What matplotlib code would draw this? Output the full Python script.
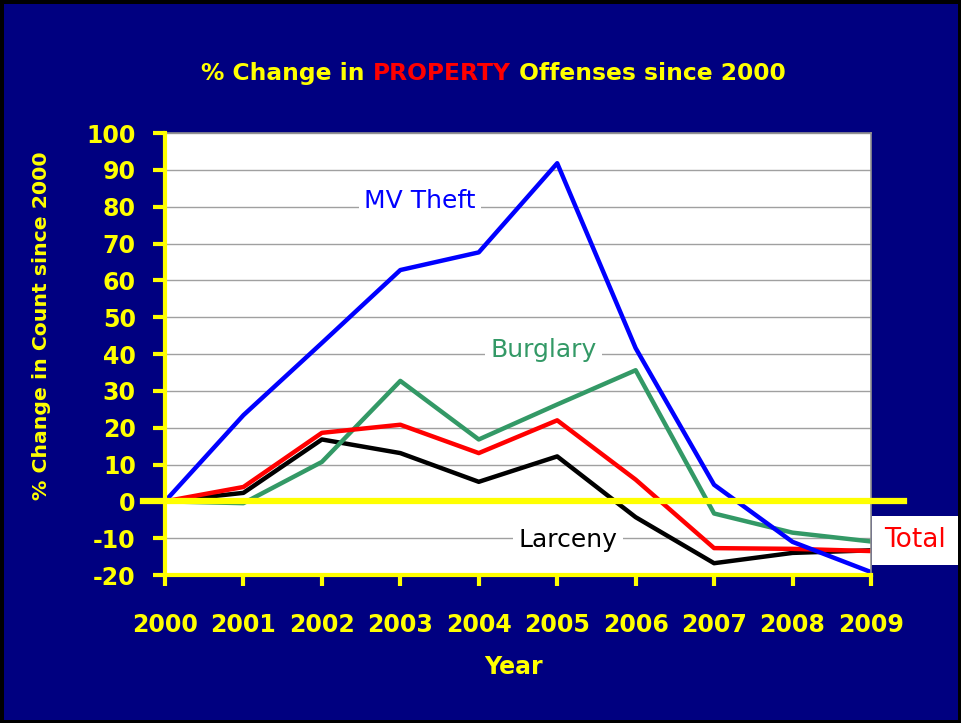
import matplotlib.pyplot as plt
import numpy as np

years = [2000, 2001, 2002, 2003, 2004, 2005, 2006, 2007, 2008, 2009]
mv_theft = [0, 23.4, 43.0, 62.8, 67.6, 91.8, 41.6, 4.5, -11.0, -19.2]
burglary = [0, -0.5, 10.7, 32.7, 16.8, 26.3, 35.6, -3.3, -8.5, -10.9]
total = [0, 3.9, 18.6, 20.8, 13.1, 22.0, 5.9, -12.7, -12.9, -13.5]
larceny = [0, 2.3, 16.8, 13.1, 5.3, 12.2, -4.3, -16.8, -14.0, -13.3]
yticks = list(range(-20, 101, 10))

NAVY = "#000080"
YEL = "#FFFF00"
GREEN = "#339966"

plt.rcParams['font.family'] = ['DejaVu Sans']
plt.rcParams['axes.unicode_minus'] = False

fig = plt.figure(figsize=(9.61, 7.23), dpi=100)
fig.patch.set_facecolor(NAVY)
fig.patch.set_edgecolor("black")
fig.patch.set_linewidth(5)

ax = fig.add_axes([0.1717, 0.2047, 0.7346, 0.6113])
ax.set_facecolor("white")

x = np.arange(len(years))
ax.plot(x, larceny, color="black", lw=3.2)
ax.plot(x, burglary, color=GREEN, lw=3.2)
ax.plot(x, total, color="red", lw=3.2)
ax.plot(x, mv_theft, color="blue", lw=3.2)

# heavy zero line running past both sides of the plot
ax.axhline(0, xmin=-0.031, xmax=1.047, color=YEL, lw=4.5, clip_on=False, zorder=5)

ax.set_xlim(0, len(years) - 1)
ax.set_ylim(-20, 100)
ax.set_yticks(yticks)
ax.set_xticks(x)
ax.set_xticklabels([str(y) for y in years])
ax.grid(axis="y", color="#a0a0a0", lw=1)
ax.set_axisbelow(True)

for s in ["top", "right"]:
    ax.spines[s].set_color("#909090")
    ax.spines[s].set_linewidth(1.2)
for s in ["left", "bottom"]:
    ax.spines[s].set_color(YEL)
    ax.spines[s].set_linewidth(3)
    ax.spines[s].set_zorder(6)

ax.tick_params(axis="y", colors=YEL, length=9, width=3, pad=12, labelsize=17)
ax.tick_params(axis="x", colors=YEL, length=8, width=3, pad=19, labelsize=17)
for lab in ax.get_xticklabels() + ax.get_yticklabels():
    lab.set_fontweight("bold")

# series labels inside the plot
box = dict(facecolor="white", edgecolor="none", pad=4)
ax.text(3.25, 81.5, "MV Theft", color="blue", fontsize=18, ha="center", va="center", bbox=box)
ax.text(4.83, 41, "Burglary", color=GREEN, fontsize=18, ha="center", va="center", bbox=box)
ax.text(5.14, -10.6, "Larceny", color="black", fontsize=18, ha="center", va="center", bbox=box)
ax.text(9.56, -10.6, "Total", color="red", fontsize=19, ha="center", va="center",
        bbox=dict(facecolor="white", edgecolor="none", boxstyle="square,pad=0.45"),
        clip_on=False, zorder=7)

# axis titles
fig.text(42 / 961, 1 - 326 / 723, "% Change in Count since 2000", color=YEL, fontsize=14.7,
         fontweight="bold", rotation=90, ha="center", va="center")
fig.text(514 / 961, 1 - 667 / 723, "Year", color=YEL, fontsize=17, fontweight="bold",
         ha="center", va="center")

# title in three colours
tsize = 16.8
mid = fig.text(442 / 961, 1 - 80 / 723, "PROPERTY", color="red", fontsize=tsize,
               fontweight="bold", ha="center", va="baseline")
ax.annotate("% Change in ", xy=(0, 0), xycoords=mid, ha="right", va="bottom",
            color=YEL, fontsize=tsize, fontweight="bold", annotation_clip=False)
ax.annotate(" Offenses since 2000", xy=(1, 0), xycoords=mid, ha="left", va="bottom",
            color=YEL, fontsize=tsize, fontweight="bold", annotation_clip=False)

fig.savefig("out.png", dpi=100, facecolor=fig.get_facecolor(), edgecolor=fig.get_edgecolor())
